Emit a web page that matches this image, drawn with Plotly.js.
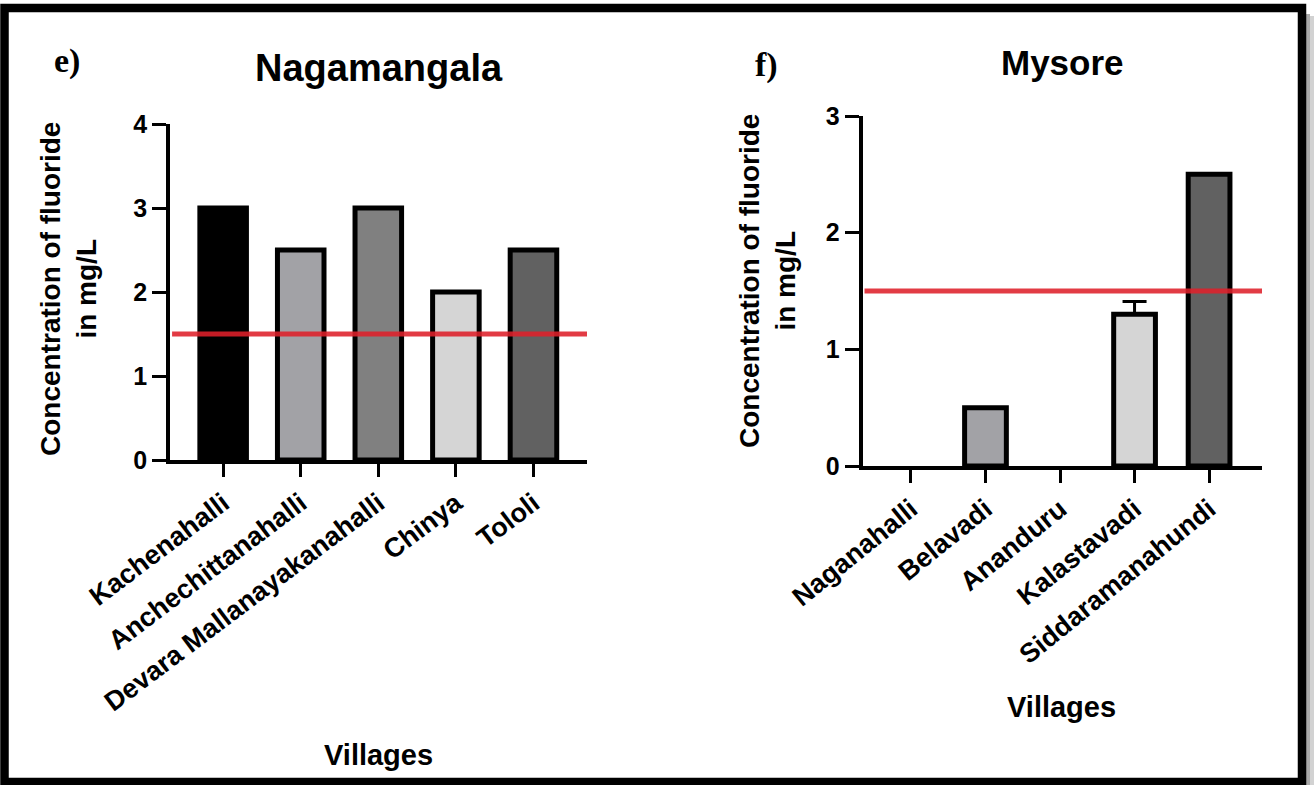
<!DOCTYPE html>
<html>
<head>
<meta charset="utf-8">
<script src="https://cdn.plot.ly/plotly-3.0.1.min.js"></script>
<style>
  html, body { margin: 0; padding: 0; background: #ffffff; }
  #chart { width: 1314px; height: 785px; }
</style>
</head>
<body>
<div id="chart"></div>
<script>
// ---------- data ----------
const nagaVillages = ['Kachenahalli', 'Anchechittanahalli', 'Devara Mallanayakanahalli', 'Chinya', 'Tololi'];
const nagaFluoride = [3, 2.5, 3, 2, 2.5];
const nagaColors = ['#000000', '#a2a2a6', '#808080', '#d5d5d5', '#616161'];

const mysVillages = ['Naganahalli', 'Belavadi', 'Ananduru', 'Kalastavadi', 'Siddaramanahundi'];
const mysFluoride = [0, 0.5, 0, 1.3, 2.5];
const mysErrorUp = [null, null, null, 0.11, null];
const mysColors = ['#000000', '#a2a2a6', '#808080', '#d5d5d5', '#616161'];

const permissibleLimit = 1.5;   // red reference line, mg/L
const nagaYTicks = [0, 1, 2, 3, 4];
const mysYTicks = [0, 1, 2, 3];

const panelTitles = ['Nagamangala', 'Mysore'];
const panelLetters = ['e)', 'f)'];
const yTitle = 'Concentration of fluoride<br>in mg/L';
const xTitle = 'Villages';

// ---------- layout helpers ----------
const W = 1314, H = 785;
const px = x => x / W;
const py = y => 1 - y / H;
const SANS = 'Liberation Sans, Arial, sans-serif';
const SERIF = 'Liberation Serif, Times New Roman, serif';

const errIdx = mysErrorUp.map((e, i) => e === null ? -1 : i).filter(i => i >= 0);

const traces = [
  {
    type: 'bar', x: nagaVillages, y: nagaFluoride, xaxis: 'x', yaxis: 'y',
    width: 0.6,
    marker: { color: nagaColors, line: { color: '#000000', width: nagaFluoride.map(v => v > 0 ? 5 : 0) } },
    hoverinfo: 'x+y', showlegend: false
  },
  {
    type: 'bar', x: mysVillages, y: mysFluoride, xaxis: 'x2', yaxis: 'y2',
    width: 0.56,
    marker: { color: mysColors, line: { color: '#000000', width: mysFluoride.map(v => v > 0 ? 5 : 0) } },
    hoverinfo: 'x+y', showlegend: false
  },
  {
    // upper error bar (SD) drawn only where it exists
    type: 'scatter', mode: 'markers', xaxis: 'x2', yaxis: 'y2',
    x: errIdx.map(i => mysVillages[i]), y: errIdx.map(i => mysFluoride[i]),
    marker: { size: 1, color: 'rgba(0,0,0,0)' },
    error_y: { type: 'data', symmetric: false, array: errIdx.map(i => mysErrorUp[i]), arrayminus: errIdx.map(() => 0),
               color: '#000000', thickness: 3, width: 12 },
    hoverinfo: 'skip', showlegend: false, cliponaxis: false
  }
];

const xCommon = {
  type: 'category', showline: true, linecolor: '#000000', linewidth: 3.5,
  ticks: 'outside', ticklen: 13, tickwidth: 3, tickcolor: '#000000',
  showgrid: false, zeroline: false, fixedrange: true,
  tickfont: { family: SANS, size: 27, color: '#000000', weight: 'bold' }
};
const yCommon = {
  showline: true, linecolor: '#000000', linewidth: 3.5,
  ticks: 'outside', ticklen: 14, tickwidth: 3, tickcolor: '#000000',
  showgrid: false, zeroline: false, fixedrange: true,
  tickmode: 'array',
  tickfont: { family: SANS, size: 25, color: '#000000', weight: 'bold' }
};

const layout = {
  width: W, height: H,
  margin: { l: 0, r: 0, t: 0, b: 0, pad: 0 },
  paper_bgcolor: '#ffffff', plot_bgcolor: 'rgba(0,0,0,0)',
  bargap: 0.4,
  xaxis: Object.assign({}, xCommon, { domain: [px(170), px(587)], range: [-0.685, 4.69], anchor: 'y', tickangle: -37,
                                      categoryorder: 'array', categoryarray: nagaVillages }),
  yaxis: Object.assign({}, yCommon, { domain: [py(460), py(124)], range: [0, 4], anchor: 'x', tickvals: nagaYTicks }),
  xaxis2: Object.assign({}, xCommon, { domain: [px(862.5), px(1262)], range: [-0.65, 4.71], anchor: 'y2', tickangle: -39,
                                       categoryorder: 'array', categoryarray: mysVillages }),
  yaxis2: Object.assign({}, yCommon, { domain: [py(466), py(116)], range: [0, 3], anchor: 'x2', tickvals: mysYTicks }),
  shapes: [
    // threshold lines
    { type: 'line', xref: 'x domain', yref: 'y', x0: 0.005, x1: 1, y0: permissibleLimit, y1: permissibleLimit,
      line: { color: 'rgba(222,32,42,0.88)', width: 5 }, layer: 'above' },
    { type: 'line', xref: 'x2 domain', yref: 'y2', x0: 0.005, x1: 1, y0: permissibleLimit, y1: permissibleLimit,
      line: { color: 'rgba(222,32,42,0.88)', width: 5 }, layer: 'above' },
    // frame shadow on the right
    { type: 'rect', xref: 'paper', yref: 'paper', x0: px(1306), x1: px(1310), y0: py(785), y1: py(14),
      fillcolor: '#a9a9a9', line: { width: 0 }, layer: 'above' },
    { type: 'rect', xref: 'paper', yref: 'paper', x0: px(1310), x1: px(1314), y0: py(785), y1: py(16),
      fillcolor: '#d2d2d2', line: { width: 0 }, layer: 'above' },
    // black frame
    { type: 'rect', xref: 'paper', yref: 'paper', x0: px(4.5), x1: px(1302), y0: py(782), y1: py(8),
      line: { color: '#000000', width: 8.5 }, fillcolor: 'rgba(0,0,0,0)', layer: 'above' }
  ],
  annotations: [
    { text: panelLetters[0], xref: 'paper', yref: 'paper', x: px(67), y: py(61), xanchor: 'center', yanchor: 'middle',
      showarrow: false, font: { family: SERIF, size: 34, color: '#000000', weight: 'bold' } },
    { text: panelLetters[1], xref: 'paper', yref: 'paper', x: px(766), y: py(65), xanchor: 'center', yanchor: 'middle',
      showarrow: false, font: { family: SERIF, size: 34, color: '#000000', weight: 'bold' } },
    { text: panelTitles[0], xref: 'paper', yref: 'paper', x: px(378.5), y: py(68), xanchor: 'center', yanchor: 'middle',
      showarrow: false, font: { family: SANS, size: 38, color: '#000000', weight: 'bold' } },
    { text: panelTitles[1], xref: 'paper', yref: 'paper', x: px(1062), y: py(63), xanchor: 'center', yanchor: 'middle',
      showarrow: false, font: { family: SANS, size: 35, color: '#000000', weight: 'bold' } },
    { text: yTitle, xref: 'paper', yref: 'paper', x: px(69), y: py(289), xanchor: 'center', yanchor: 'middle', textangle: -90,
      showarrow: false, font: { family: SANS, size: 28, color: '#000000', weight: 'bold' } },
    { text: yTitle, xref: 'paper', yref: 'paper', x: px(768), y: py(281), xanchor: 'center', yanchor: 'middle', textangle: -90,
      showarrow: false, font: { family: SANS, size: 28, color: '#000000', weight: 'bold' } },
    { text: xTitle, xref: 'paper', yref: 'paper', x: px(378), y: py(755), xanchor: 'center', yanchor: 'middle',
      showarrow: false, font: { family: SANS, size: 29, color: '#000000', weight: 'bold' } },
    { text: xTitle, xref: 'paper', yref: 'paper', x: px(1061), y: py(707), xanchor: 'center', yanchor: 'middle',
      showarrow: false, font: { family: SANS, size: 29, color: '#000000', weight: 'bold' } }
  ]
};

Plotly.newPlot('chart', traces, layout, { displayModeBar: false, responsive: false });
</script>
</body>
</html>
